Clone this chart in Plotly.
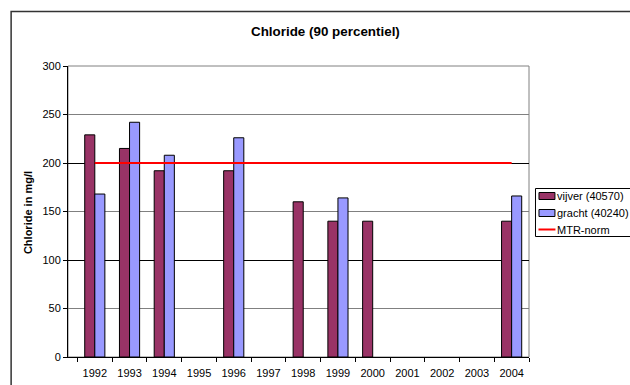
import plotly.graph_objects as go

# Chloride 90-percentile per year, two monitoring points, plus the MTR standard
years = ["1992", "1993", "1994", "1995", "1996", "1997", "1998",
         "1999", "2000", "2001", "2002", "2003", "2004"]
vijver = [229, 215, 192, None, 192, None, 160, 140, 140, None, None, None, 140]
gracht = [168, 242, 208, None, 226, None, None, 164, None, None, None, None, 166]
mtr_norm = [200] * len(years)

y_ticks = [0, 50, 100, 150, 200, 250, 300]
dark_grid = [100, 200]

series_names = ["vijver (40570)", "gracht (40240)", "MTR-norm"]
series_colors = ["#993366", "#9999FF", "#FF0000"]

FONT = "Liberation Sans, Arial, sans-serif"
W, H = 630, 385
M_L, M_R, M_T, M_B = 67.5, 100.5, 66, 28
PW, PH = W - M_L - M_R, H - M_T - M_B


def px_x(px):
    """page pixel column -> paper x"""
    return (px - M_L) / PW


def px_y(px):
    """page pixel row -> paper y"""
    return (H - M_B - px) / PH


fig = go.Figure()
fig.add_trace(go.Bar(
    x=years, y=vijver, name=series_names[0],
    marker=dict(color=series_colors[0], line=dict(color="black", width=1)),
))
fig.add_trace(go.Bar(
    x=years, y=gracht, name=series_names[1],
    marker=dict(color=series_colors[1], line=dict(color="black", width=1)),
))
fig.add_trace(go.Scatter(
    x=years, y=mtr_norm, name=series_names[2], mode="lines",
    line=dict(color=series_colors[2], width=2),
))
# invisible helper trace that carries the darker gridlines axis
fig.add_trace(go.Scatter(x=[years[0]], y=[0], yaxis="y2", mode="markers",
                         marker=dict(opacity=0), showlegend=False,
                         hoverinfo="skip"))

# legend box in the right margin, running off the page edge
legend_rows = [196, 213, 229.5]
shapes = [
    # plot area frame (top and right edges)
    dict(type="rect", xref="paper", yref="paper", x0=0, x1=1, y0=0, y1=1,
         line=dict(color="#808080", width=1), layer="below"),
    # chart area frame
    dict(type="rect", xref="paper", yref="paper",
         x0=px_x(10.5), x1=px_x(700), y0=px_y(450), y1=px_y(11.5),
         line=dict(color="#333333", width=1.5), layer="below"),
    # legend frame
    dict(type="rect", xref="paper", yref="paper",
         x0=px_x(536), x1=px_x(700), y0=px_y(236.5), y1=px_y(188.5),
         line=dict(color="black", width=1), fillcolor="white"),
]
for i, row in enumerate(legend_rows):
    if i < 2:
        shapes.append(dict(
            type="rect", xref="paper", yref="paper",
            x0=px_x(539.5), x1=px_x(555.5),
            y0=px_y(row + 3.5), y1=px_y(row - 3.5),
            line=dict(color="black", width=1), fillcolor=series_colors[i]))
    else:
        shapes.append(dict(
            type="line", xref="paper", yref="paper",
            x0=px_x(539), x1=px_x(556), y0=px_y(row), y1=px_y(row),
            line=dict(color=series_colors[i], width=2)))

annotations = [
    dict(text="<b>Chloride (90 percentiel)</b>", xref="paper", yref="paper",
         x=px_x(325.5), y=px_y(31.5), xanchor="center", yanchor="middle",
         showarrow=False, font=dict(family=FONT, size=13.4, color="black")),
    dict(text="<b>Chloride in mg/l</b>", xref="paper", yref="paper",
         x=px_x(27.5), y=px_y(213), xanchor="center", yanchor="middle",
         textangle=-90, showarrow=False,
         font=dict(family=FONT, size=11, color="black")),
]
for name, row in zip(series_names, legend_rows):
    annotations.append(dict(
        text=name, xref="paper", yref="paper",
        x=px_x(556), y=px_y(row), xanchor="left", yanchor="middle",
        showarrow=False, font=dict(family=FONT, size=11, color="black")))

fig.update_layout(
    width=W, height=H,
    margin=dict(l=M_L, r=M_R, t=M_T, b=M_B, autoexpand=False),
    paper_bgcolor="white", plot_bgcolor="white",
    font=dict(family=FONT, size=11, color="black"),
    barmode="group", bargap=0.42, bargroupgap=0,
    showlegend=False,
    xaxis=dict(
        type="category", categoryorder="array", categoryarray=years,
        tickson="boundaries", ticks="outside", ticklen=4, tickcolor="black",
        showline=True, linecolor="black", linewidth=1, tickangle=0,
        ticklabelstandoff=6, showgrid=False, tickfont=dict(size=11),
    ),
    yaxis=dict(
        range=[0, 300], tickvals=y_ticks, ticks="outside", ticklen=4,
        tickcolor="black", showline=True, linecolor="black", linewidth=1,
        showgrid=True, gridcolor="#808080", gridwidth=1, zeroline=False,
        tickfont=dict(size=11),
    ),
    yaxis2=dict(
        overlaying="y", range=[0, 300], tickvals=dark_grid,
        showticklabels=False, showgrid=True, gridcolor="black", gridwidth=1,
        zeroline=False, showline=False, ticks="",
    ),
    shapes=shapes,
    annotations=annotations,
)

fig.write_html("out.html")
